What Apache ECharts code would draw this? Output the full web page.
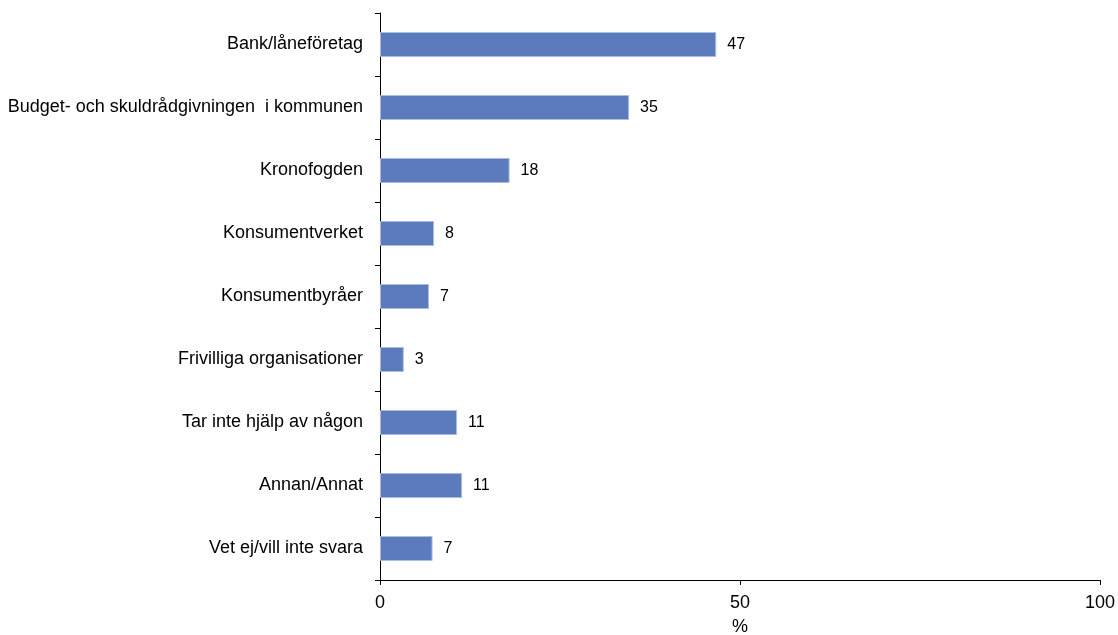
<!DOCTYPE html>
<html>
<head>
<meta charset="utf-8">
<script src="https://cdn.jsdelivr.net/npm/echarts@6/dist/echarts.min.js"></script>
<style>html,body{margin:0;padding:0;background:#fff}#c{width:1118px;height:635px}</style>
</head>
<body>
<div id="c"></div>
<script>
var categories = ["Bank/låneföretag","Budget- och skuldrådgivningen  i kommunen","Kronofogden","Konsumentverket","Konsumentbyråer","Frivilliga organisationer","Tar inte hjälp av någon","Annan/Annat","Vet ej/vill inte svara"];
var values = [46.7, 34.6, 18.0, 7.5, 6.8, 3.3, 10.7, 11.4, 7.3];
var xTicks = [0, 50, 100];
var xName = "%";

var chart = echarts.init(document.getElementById('c'), null, {renderer: 'canvas'});
chart.setOption({
  animation: false,
  grid: {left: 380, right: 18, top: 13, bottom: 55, containLabel: false, outerBoundsMode: 'none'},
  xAxis: {
    type: 'value', min: xTicks[0], max: xTicks[xTicks.length-1], interval: 50,
    name: xName, nameLocation: 'middle', nameGap: 38,
    nameTextStyle: {color: '#000', fontSize: 18, fontFamily: 'Liberation Sans, Arial'},
    axisLine: {show: true, lineStyle: {color: '#000', width: 1}},
    axisTick: {show: true, length: 5, lineStyle: {color: '#000'}},
    axisLabel: {color: '#000', fontSize: 18, fontFamily: 'Liberation Sans, Arial', margin: 14},
    splitLine: {show: false}
  },
  yAxis: {
    type: 'category', data: categories, inverse: true,
    axisLine: {show: true, lineStyle: {color: '#000', width: 1}},
    axisTick: {show: true, length: 5, lineStyle: {color: '#000'}},
    axisLabel: {color: '#000', fontSize: 18, fontFamily: 'Liberation Sans, Arial', margin: 17}
  },
  series: [{
    type: 'bar', data: values, barWidth: 25,
    itemStyle: {color: '#5b7bbd', borderColor: '#a9bce6', borderWidth: 1},
    label: {show: true, position: 'right', distance: 11, color: '#000', fontSize: 16,
      fontFamily: 'Liberation Sans, Arial', formatter: function(p){return Math.round(p.value);}}
  }]
});
</script>
</body>
</html>
